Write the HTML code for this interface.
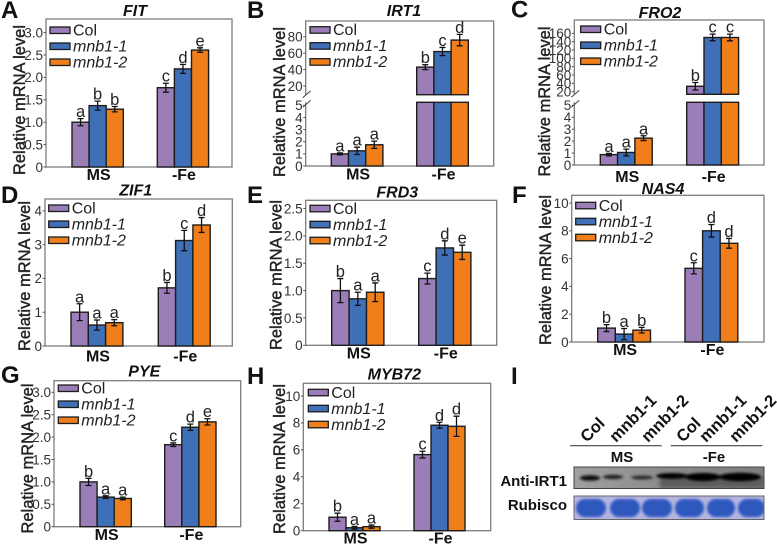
<!DOCTYPE html>
<html>
<head>
<meta charset="utf-8">
<title>mRNA expression panels</title>
<style>
html,body{margin:0;padding:0;background:#fff;width:777px;height:546px;overflow:hidden}
svg{display:block;filter:blur(.35px);font-family:"Liberation Sans",sans-serif}
</style>
</head>
<body>
<svg id="figure" width="777" height="546" viewBox="0 0 777 546" xmlns="http://www.w3.org/2000/svg">
<defs>
<filter id="soft" x="-30%" y="-60%" width="160%" height="220%"><feGaussianBlur stdDeviation="1.3"/></filter>
<filter id="soft2" x="-30%" y="-60%" width="160%" height="220%"><feGaussianBlur stdDeviation="2.2"/></filter>
<clipPath id="blot-clip-a"><rect x="574" y="467" width="190" height="21.5"/></clipPath>
<clipPath id="blot-clip-b"><rect x="574" y="496" width="190" height="23.5"/></clipPath>
<linearGradient id="blot-bg" x1="0" y1="0" x2="1" y2="0"><stop offset="0" stop-color="#a0a0a0"/><stop offset=".5" stop-color="#8a8a8a"/><stop offset="1" stop-color="#7e7e7e"/></linearGradient>
</defs>
<g id="charts"></g>
<g>
<text x="511" y="384" font-size="24" font-weight="bold" fill="#111">I</text>
<g font-size="16.5" font-weight="bold" fill="#111">
<text transform="translate(587 443) rotate(-45)">Col</text>
<text transform="translate(616 443) rotate(-45)">mnb1-1</text>
<text transform="translate(648 443) rotate(-45)">mnb1-2</text>
<text transform="translate(683 443) rotate(-45)">Col</text>
<text transform="translate(706 443) rotate(-45)">mnb1-1</text>
<text transform="translate(736 443) rotate(-45)">mnb1-2</text>
</g>
<line x1="570" y1="445.7" x2="661.7" y2="445.7" stroke="#444" stroke-width="1.1"/>
<line x1="670.7" y1="445.7" x2="762.3" y2="445.7" stroke="#444" stroke-width="1.1"/>
<text x="622" y="462" font-size="15" font-weight="bold" text-anchor="middle" fill="#111">MS</text>
<text x="714" y="462" font-size="15" font-weight="bold" text-anchor="middle" fill="#111">-Fe</text>
<text x="567" y="486" font-size="15" font-weight="bold" text-anchor="end" fill="#111">Anti-IRT1</text>
<text x="567" y="510" font-size="15" font-weight="bold" text-anchor="end" fill="#111">Rubisco</text>
<g>
<rect x="574" y="467" width="190" height="21.5" fill="url(#blot-bg)"/>
<g clip-path="url(#blot-clip-a)">
<rect x="660" y="477" width="104" height="11" fill="#5c5c5c" filter="url(#soft2)"/>
<ellipse cx="590" cy="478" rx="10" ry="2.8" fill="#111" filter="url(#soft)"/>
<ellipse cx="613" cy="477" rx="10" ry="2.2" fill="#222" filter="url(#soft)"/>
<ellipse cx="642" cy="477.5" rx="11" ry="2" fill="#2a2a2a" filter="url(#soft)"/>
<ellipse cx="672" cy="476" rx="16" ry="3" fill="#000" filter="url(#soft)"/>
<ellipse cx="703" cy="477" rx="18" ry="4" fill="#000" filter="url(#soft)"/>
<ellipse cx="740" cy="477" rx="21" ry="4.2" fill="#000" filter="url(#soft)"/>
</g>
<rect x="574" y="467" width="190" height="21.5" fill="none" stroke="#444" stroke-width="1"/>
</g>
<g>
<rect x="574" y="496" width="190" height="23.5" fill="#b4b4e2"/>
<g clip-path="url(#blot-clip-b)" fill="#2f58bd">
<rect x="576" y="499" width="30" height="18" rx="9" filter="url(#soft)"/>
<rect x="610" y="499" width="30" height="18" rx="9" filter="url(#soft)"/>
<rect x="642" y="499" width="30" height="18" rx="9" filter="url(#soft)"/>
<rect x="675" y="499" width="29" height="18" rx="9" filter="url(#soft)"/>
<rect x="707" y="499" width="28" height="18" rx="9" filter="url(#soft)"/>
<rect x="738" y="499" width="27" height="18" rx="9" filter="url(#soft)"/>
</g>
<rect x="574" y="496" width="190" height="23.5" fill="none" stroke="#666" stroke-width="1"/>
</g>
</g>
</svg>
<script>
const groupNames = ['MS', '-Fe'];
const genotypes = ['Col', 'mnb1-1', 'mnb1-2'];
const barColors = ['#9b7db7', '#3f6fb6', '#f07f1b'];

const fitValues = [[1.0, 1.37, 1.29], [1.77, 2.19, 2.61]];
const fitErrors = [[0.08, 0.1, 0.06], [0.1, 0.1, 0.05]];
const fitLetters = [['a', 'b', 'b'], ['c', 'd', 'e']];
const fitTicks = ['0', '0.5', '1.0', '1.5', '2.0', '2.5', '3.0'];

const irt1Values = [[1.0, 1.25, 1.75], [43, 62, 76]];
const irt1Errors = [[0.08, 0.3, 0.3], [3, 5, 7]];
const irt1Letters = [['a', 'a', 'a'], ['b', 'c', 'd']];
const irt1Ticks = ['0', '1', '2', '3', '4', '5', '20', '40', '60', '80'];

const fro2Values = [[0.87, 1.05, 2.25], [33, 150, 150]];
const fro2Errors = [[0.1, 0.28, 0.2], [9, 8, 8]];
const fro2Letters = [['a', 'a', 'a'], ['b', 'c', 'c']];
const fro2Ticks = ['0', '1', '2', '3', '4', '5', '20', '40', '60', '80', '100', '120', '140', '160'];

const zif1Values = [[1.0, 0.62, 0.69], [1.72, 3.12, 3.58]];
const zif1Errors = [[0.25, 0.15, 0.09], [0.16, 0.3, 0.22]];
const zif1Letters = [['a', 'a', 'a'], ['b', 'c', 'd']];
const zif1Ticks = ['0', '1', '2', '3', '4'];

const frd3Values = [[1.0, 0.85, 0.97], [1.22, 1.78, 1.7]];
const frd3Errors = [[0.22, 0.12, 0.17], [0.1, 0.13, 0.13]];
const frd3Letters = [['b', 'a', 'a'], ['c', 'd', 'e']];
const frd3Ticks = ['0', '0.5', '1.0', '1.5', '2.0', '2.5'];

const nas4Values = [[1.0, 0.57, 0.85], [5.3, 8.0, 7.1]];
const nas4Errors = [[0.25, 0.4, 0.2], [0.4, 0.45, 0.35]];
const nas4Letters = [['b', 'a', 'b'], ['c', 'd', 'd']];
const nas4Ticks = ['0', '2', '4', '6', '8', '10'];

const pyeValues = [[1.0, 0.66, 0.63], [1.83, 2.22, 2.34]];
const pyeErrors = [[0.08, 0.03, 0.03], [0.04, 0.07, 0.07]];
const pyeLetters = [['b', 'a', 'a'], ['c', 'd', 'e']];
const pyeTicks = ['0', '0.5', '1.0', '1.5', '2.0', '2.5', '3.0'];

const myb72Values = [[1.0, 0.22, 0.3], [5.65, 7.83, 7.75]];
const myb72Errors = [[0.3, 0.1, 0.12], [0.25, 0.22, 0.75]];
const myb72Letters = [['b', 'a', 'a'], ['c', 'd', 'd']];
const myb72Ticks = ['0', '2', '4', '6', '8', '10'];

const panels = [
  {id:'fit', title:'FIT', letter:'A', values:fitValues, errors:fitErrors, marks:fitLetters, ticks:fitTicks,
   l:46, r:232, t:19, b:167, k:44.8, g:[72,157.3], w:17.1, lx:50, ly:27, tx:135, ty:16, px:1, py:18, ax:25, ay:100, gy:180},
  {id:'irt1', title:'IRT1', letter:'B', values:irt1Values, errors:irt1Errors, marks:irt1Letters, ticks:irt1Ticks,
   l:305.7, r:493.7, t:21, b:166, k:12.13, g:[331.3,416.7], w:17.2, lx:310, ly:26.7, tx:404, ty:16, px:247, py:18, ax:285, ay:102, gy:179.5,
   brk:{limit:5, base:20, basePx:86, upK:0.82, lowTop:102.3, upBottom:94.7}},
  {id:'fro2', title:'FRO2', letter:'C', values:fro2Values, errors:fro2Errors, marks:fro2Letters, ticks:fro2Ticks,
   l:574.3, r:764, t:20, b:165, k:11.93, g:[600.3,686.7], w:17.3, lx:580.7, ly:26, tx:660, ty:18, px:511, py:17.5, ax:550, ay:101.5, gy:182,
   brk:{limit:5, base:20, basePx:91.7, upK:0.417, lowTop:102.3, upBottom:94.3}},
  {id:'zif1', title:'ZIF1', letter:'D', values:zif1Values, errors:zif1Errors, marks:zif1Letters, ticks:zif1Ticks,
   l:45, r:232.3, t:199, b:346, k:33.8, g:[71,158.3], w:17.3, lx:48.7, ly:205, tx:135.7, ty:195.7, px:1, py:203, ax:30, ay:276, gy:361.7},
  {id:'frd3', title:'FRD3', letter:'E', values:frd3Values, errors:frd3Errors, marks:frd3Letters, ticks:frd3Ticks,
   l:305.7, r:496.7, t:200.3, b:345.3, k:54.7, g:[331.7,418.7], w:17.4, lx:310, ly:205.3, tx:397.3, ty:197.3, px:247, py:203, ax:281.7, ay:275, gy:358.3},
  {id:'nas4', title:'NAS4', letter:'F', values:nas4Values, errors:nas4Errors, marks:nas4Letters, ticks:nas4Ticks,
   l:571.7, r:764, t:195.3, b:342, k:13.9, g:[597.7,685], w:17.6, lx:575.7, ly:202.3, tx:663, ty:194, px:512, py:203, ax:551, ay:270, gy:355},
  {id:'pye', title:'PYE', letter:'G', values:pyeValues, errors:pyeErrors, marks:pyeLetters, ticks:pyeTicks,
   l:54, r:240.7, t:380.7, b:526.7, k:44.8, g:[80,164.7], w:17.1, lx:58.3, ly:385, tx:144.3, ty:376.7, px:1, py:383, ax:33, ay:458.5, gy:540},
  {id:'myb72', title:'MYB72', letter:'H', values:myb72Values, errors:myb72Errors, marks:myb72Letters, ticks:myb72Ticks,
   l:303.3, r:490.7, t:383.3, b:530.7, k:13.47, g:[329,414], w:17, lx:308.3, ly:389.3, tx:394.3, ty:379.3, px:247, py:384, ax:285, ay:459, gy:543.7}
];

const NS = 'http://www.w3.org/2000/svg';
function make(tag, attrs, parent, text) {
  const node = document.createElementNS(NS, tag);
  Object.keys(attrs).forEach(function (key) { node.setAttribute(key, attrs[key]); });
  if (text !== undefined) node.textContent = text;
  parent.appendChild(node);
  return node;
}
function yScale(p, v) {
  if (p.brk && v > p.brk.limit) return p.brk.basePx - (v - p.brk.base) * p.brk.upK;
  return p.b - v * p.k;
}
function xScale(p, g, i) {
  return p.g[g] + i * p.w;
}

const root = document.getElementById('charts');
panels.forEach(function (p) {
  const g = make('g', {}, root);
  
  

  const letter = make('text', {x:p.px, y:p.py, 'font-size':24, 'font-weight':'bold', fill:'#111'}, g, p.letter);
  
  

  const title = make('text', {x:p.tx, y:p.ty, 'font-size':16, 'font-weight':'bold', 'font-style':'italic', 'text-anchor':'middle', fill:'#111'}, g, p.title);
  
  

  const frame = make('rect', {x:p.l, y:p.t, width:p.r - p.l, height:p.b - p.t, fill:'none', stroke:'#7c7c7c', 'stroke-width':1.3}, g);
  
  

  const axisTitle = make('text', {transform:'translate(' + p.ax + ' ' + p.ay + ') rotate(-90)', 'font-size':16.5, 'text-anchor':'middle', fill:'#222', stroke:'#222', 'stroke-width':0.4, textLength:150, lengthAdjust:'spacingAndGlyphs'}, g, 'Relative mRNA level');
  
  

  p.ticks.forEach(function (label) {
    const py = yScale(p, Number(label));
    const tick = make('line', {x1:p.l - 2.5, x2:p.l, y1:py, y2:py, stroke:'#555', 'stroke-width':1}, g);
    
    
    const tickLabel = make('text', {x:p.l - 3, y:py + 4.8, 'font-size':13.5, 'text-anchor':'end', fill:'#333'}, g, label);
    
    
  });

  if (p.brk) {
    const gap = make('rect', {x:p.l - 3, y:p.brk.upBottom, width:6, height:p.brk.lowTop - p.brk.upBottom, fill:'#fff'}, g);
    
    
    [p.brk.upBottom, p.brk.lowTop + 2].forEach(function (sy) {
      const slash = make('line', {x1:p.l - 3, y1:sy + 3, x2:p.l + 5, y2:sy - 4, stroke:'#444', 'stroke-width':1}, g);
      
      
    });
  }

  p.values.forEach(function (series, gi) {
    let cx0 = xScale(p, gi, 0);
    let cx1 = xScale(p, gi, 3);
    const groupLabel = make('text', {x:(cx0 + cx1) / 2 + 1, y:p.gy, 'font-size':16, 'font-weight':'bold', 'text-anchor':'middle', fill:'#111'}, g, groupNames[gi]);
    
    

    series.forEach(function (v, i) {
      const x = xScale(p, gi, i);
      const top = yScale(p, v);
      const attrs = {x:x, width:p.w, fill:barColors[i], stroke:'#1d1d1d', 'stroke-width':1.4};
      if (p.brk && v > p.brk.limit) {
        const upper = make('rect', Object.assign({y:top, height:p.brk.upBottom - top}, attrs), g);
        
        
        const lower = make('rect', Object.assign({y:p.brk.lowTop, height:p.b - p.brk.lowTop}, attrs), g);
        
        
      } else {
        const bar = make('rect', Object.assign({y:top, height:p.b - top}, attrs), g);
        
        
      }
      const e = p.errors[gi][i];
      const cx = x + p.w / 2;
      const yHi = yScale(p, v + e);
      const yLo = yScale(p, v - e);
      const err = make('path', {d:'M' + (cx - 3) + ' ' + yHi + 'H' + (cx + 3) + 'M' + cx + ' ' + yHi + 'V' + yLo + 'M' + (cx - 3) + ' ' + yLo + 'H' + (cx + 3), fill:'none', stroke:'#111', 'stroke-width':1.3}, g);
      
      
      const mark = make('text', {x:cx, y:yHi - 1.5, 'font-size':16.5, 'text-anchor':'middle', fill:'#222'}, g, p.marks[gi][i]);
      
      
    });
  });

  genotypes.forEach(function (name, i) {
    const rowY = p.ly + i * 16;
    const swatch = make('rect', {x:p.lx, y:rowY, width:20, height:6.5, fill:barColors[i], stroke:'#1d1d1d', 'stroke-width':1.3}, g);
    
    
    const attrs = {x:p.lx + 23, y:rowY + 8.5, 'font-size':16, fill:'#222'};
    if (i > 0) attrs['font-style'] = 'italic';
    const label = make('text', attrs, g, name);
    
    
  });
});
</script>
</body>
</html>
